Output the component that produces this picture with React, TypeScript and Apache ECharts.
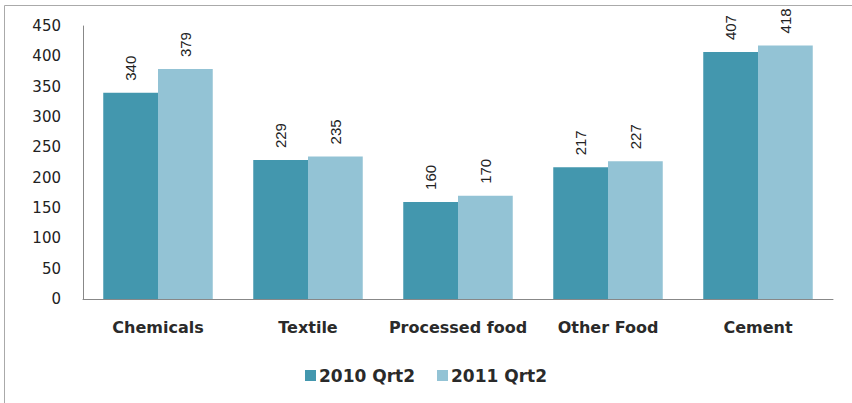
import React, { useEffect, useRef } from "react";
import * as echarts from "echarts";

const categories = ["Chemicals", "Textile", "Processed food", "Other Food", "Cement"];
const series2010 = [340, 229, 160, 217, 407];
const series2011 = [379, 235, 170, 227, 418];
const seriesNames = ["2010 Qrt2", "2011 Qrt2"];
const yTicks = { min: 0, max: 450, interval: 50 };

export default function App() {
  const ref = useRef<HTMLDivElement>(null);
  useEffect(() => {
    const chart = echarts.init(ref.current!, null, { renderer: "svg" });
    const label = {
      show: true,
      position: "top" as const,
      rotate: 90,
      align: "left" as const,
      verticalAlign: "middle" as const,
      distance: 12,
      fontFamily: "Liberation Sans Narrow, Liberation Sans",
      fontSize: 15,
      color: "#222",
    };
    chart.setOption({
      animation: false,
      backgroundColor: "#fff",
      grid: { left: 83, right: 19, top: 26, bottom: 104 },
      legend: {
        bottom: 14,
        left: "center",
        icon: "rect",
        itemWidth: 11,
        itemHeight: 11,
        itemGap: 22,
        textStyle: { fontFamily: "DejaVu Sans", fontWeight: "bold", fontSize: 17, color: "#2a2a2a", padding: [0, 0, 0, -2] },
        data: seriesNames,
      },
      xAxis: {
        type: "category",
        data: categories,
        axisLine: { lineStyle: { color: "#888" } },
        axisTick: { show: false },
        axisLabel: {
          interval: 0,
          margin: 20,
          fontFamily: "DejaVu Sans",
          fontWeight: "bold",
          fontSize: 16,
          color: "#2a2a2a",
        },
      },
      yAxis: {
        type: "value",
        min: yTicks.min,
        max: yTicks.max,
        interval: yTicks.interval,
        axisLine: { show: true, lineStyle: { color: "#888" } },
        axisTick: { show: false },
        splitLine: { show: false },
        axisLabel: {
          margin: 22,
          fontFamily: "DejaVu Sans",
          fontSize: 15,
          color: "#222",
        },
      },
      graphic: [
        { type: "line", shape: { x1: 4.5, y1: 5.5, x2: 852, y2: 5.5 }, style: { stroke: "#aaa", lineWidth: 1 } },
        { type: "line", shape: { x1: 4.5, y1: 5.5, x2: 4.5, y2: 403 }, style: { stroke: "#aaa", lineWidth: 1 } },
      ],
      series: [
        {
          name: seriesNames[0],
          type: "bar",
          data: series2010,
          barGap: "0%",
          barCategoryGap: "27%",
          itemStyle: { color: "#4397AE" },
          label,
        },
        {
          name: seriesNames[1],
          type: "bar",
          data: series2011,
          barGap: "0%",
          barCategoryGap: "27%",
          itemStyle: { color: "#93C3D5" },
          label,
        },
      ],
    });
    return () => chart.dispose();
  }, []);
  return (
    <div
      ref={ref}
      style={{ position: "absolute", left: 0, top: 0, width: 852, height: 403 }}
    />
  );
}
